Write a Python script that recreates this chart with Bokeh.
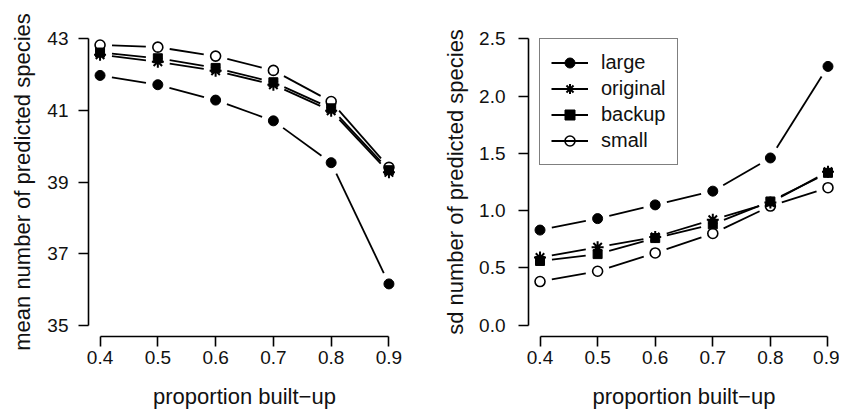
import math
from bokeh.plotting import figure
from bokeh.layouts import row
from bokeh.models import Range1d, FixedTicker, PrintfTickFormatter, Legend, LegendItem
from bokeh.embed import file_html
from bokeh.resources import INLINE

# ---- data ----
prop_builtup = [0.4, 0.5, 0.6, 0.7, 0.8, 0.9]
series_names = ["large", "original", "backup", "small"]

mean_large = [41.98, 41.72, 41.29, 40.71, 39.54, 36.15]
mean_original = [42.56, 42.36, 42.11, 41.72, 40.99, 39.27]
mean_backup = [42.62, 42.46, 42.19, 41.79, 41.06, 39.33]
mean_small = [42.83, 42.77, 42.52, 42.12, 41.25, 39.41]

sd_large = [0.83, 0.93, 1.05, 1.17, 1.46, 2.26]
sd_original = [0.59, 0.68, 0.77, 0.92, 1.07, 1.34]
sd_backup = [0.56, 0.62, 0.76, 0.88, 1.08, 1.33]
sd_small = [0.38, 0.47, 0.63, 0.80, 1.04, 1.20]

mean_ticks = [35, 37, 39, 41, 43]
sd_ticks = [0.0, 0.5, 1.0, 1.5, 2.0, 2.5]
x_ticks = [0.4, 0.5, 0.6, 0.7, 0.8, 0.9]

FONT = "Liberation Sans"
FRAME_H = 309
BORDER_TOP = 27
BORDER_BOTTOM = 74

marker_styles = {
    "large": dict(marker="circle", size=10, fill_color="black", line_color="black", line_width=1),
    "original": dict(marker="asterisk", size=12, fill_color=None, line_color="black", line_width=2),
    "backup": dict(marker="square", size=9, fill_color="black", line_color="black", line_width=1),
    "small": dict(marker="circle", size=10, fill_color=None, line_color="black", line_width=1.6),
}


def gapped(xs, ys, sx, sy, gap):
    x0, y0, x1, y1 = [], [], [], []
    for i in range(len(xs) - 1):
        dx = (xs[i + 1] - xs[i]) * sx
        dy = (ys[i + 1] - ys[i]) * sy
        d = math.hypot(dx, dy)
        if d <= 2 * gap:
            continue
        f = gap / d
        x0.append(xs[i] + (xs[i + 1] - xs[i]) * f)
        y0.append(ys[i] + (ys[i + 1] - ys[i]) * f)
        x1.append(xs[i + 1] - (xs[i + 1] - xs[i]) * f)
        y1.append(ys[i + 1] - (ys[i + 1] - ys[i]) * f)
    return x0, y0, x1, y1


def panel(frame_w, border_left, border_right, x_end, y_range, y_ticks, y_fmt,
          y_bounds, ylabel, data, ylab_standoff, ytick_standoff, with_legend):
    x_start = 0.38
    p = figure(frame_width=frame_w, frame_height=FRAME_H,
               min_border_left=border_left, min_border_right=border_right,
               min_border_top=BORDER_TOP, min_border_bottom=BORDER_BOTTOM,
               x_range=Range1d(x_start, x_end), y_range=Range1d(*y_range),
               output_backend="svg", toolbar_location=None)
    p.outline_line_color = None
    p.grid.grid_line_color = None
    p.background_fill_color = "white"
    p.border_fill_color = "white"

    for ax in (p.xaxis[0], p.yaxis[0]):
        ax.axis_line_width = 1.6
        ax.major_tick_line_width = 1.6
        ax.major_tick_out = 10
        ax.major_tick_in = 0
        ax.minor_tick_out = 0
        ax.minor_tick_in = 0
        ax.major_label_text_font = FONT
        ax.major_label_text_font_size = "19px"
        ax.major_label_text_color = "#111111"
        ax.axis_label_text_font = FONT
        ax.axis_label_text_font_size = "22px"
        ax.axis_label_text_font_style = "normal"
        ax.axis_label_text_color = "#111111"

    p.xaxis.ticker = FixedTicker(ticks=x_ticks)
    p.xaxis.formatter = PrintfTickFormatter(format="%.1f")
    p.xaxis.bounds = (x_ticks[0], x_ticks[-1])
    p.xaxis.axis_label = "proportion built\u2212up"
    p.xaxis.major_label_standoff = 4
    p.xaxis.axis_label_standoff = 17

    p.yaxis.ticker = FixedTicker(ticks=y_ticks)
    p.yaxis.formatter = PrintfTickFormatter(format=y_fmt)
    p.yaxis.bounds = y_bounds
    p.yaxis.axis_label = ylabel
    p.yaxis.major_label_standoff = ytick_standoff
    p.yaxis.axis_label_standoff = ylab_standoff

    sx = frame_w / (x_end - x_start)
    sy = FRAME_H / (y_range[1] - y_range[0])
    items = []
    for name, ys in zip(series_names, data):
        x0, y0, x1, y1 = gapped(prop_builtup, ys, sx, sy, 12)
        seg = p.segment(x0=x0, y0=y0, x1=x1, y1=y1, line_color="black", line_width=1.8)
        sc = p.scatter(x=prop_builtup, y=ys, **marker_styles[name])
        items.append(LegendItem(label=name, renderers=[seg, sc]))

    if with_legend:
        lg = Legend(items=items, location="top_left", margin=11, padding=11,
                    spacing=1, glyph_width=37, glyph_height=25, label_height=25,
                    label_standoff=13, border_line_color="black", border_line_width=1.6,
                    background_fill_color="white", background_fill_alpha=1.0,
                    label_text_font=FONT, label_text_font_size="20px",
                    label_text_color="#111111")
        p.add_layout(lg, "center")
    return p


left = panel(312, 88, 28, 0.92, (34.68, 43.32), mean_ticks, "%d", (35, 43),
             "mean number of predicted species",
             [mean_large, mean_original, mean_backup, mean_small], 9, 10, False)
right = panel(311, 100, 0, 0.92, (-0.1, 2.6), sd_ticks, "%.1f", (0.0, 2.5),
              "sd number of predicted species",
              [sd_large, sd_original, sd_backup, sd_small], 8, 13, True)

layout = row(left, right)
open("out.html", "w").write(file_html(layout, INLINE))
